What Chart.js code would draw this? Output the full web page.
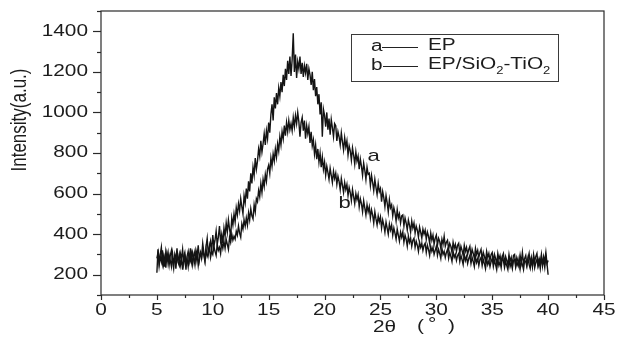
<!DOCTYPE html>
<html>
<head>
<meta charset="utf-8">
<script src="https://cdn.jsdelivr.net/npm/chart.js@4.4.1/dist/chart.umd.min.js"></script>
<style>
  html, body { margin: 0; padding: 0; background: #ffffff; }
  canvas { display: block; }
</style>
</head>
<body>
<canvas id="xrd" width="617" height="351"></canvas>
<script>
// Scan grid: 2θ from 5° to 40° in 0.1° steps
const TWO_THETA_START = 5;
const TWO_THETA_STEP = 0.1;

// a — EP
const intensityEP = [
  210,325,260,300,335,255,290,240,315,280,
  310,250,295,320,265,230,300,275,330,260,
  245,305,280,325,255,300,225,290,315,270,
  330,265,310,285,250,320,295,345,270,305,
  290,355,310,270,340,380,300,335,365,315,
  395,340,370,415,350,385,440,365,400,355,
  430,390,455,410,470,425,390,480,445,500,
  460,530,495,550,515,575,535,500,590,555,
  625,575,660,610,700,650,730,690,775,720,
  760,820,785,860,805,845,895,840,910,870,
  950,900,990,1040,960,1075,1020,1095,1040,1120,
  1080,1150,1100,1185,1130,1215,1160,1255,1190,1275,
  1180,1260,1390,1200,1285,1170,1250,1215,1275,1190,
  1245,1175,1230,1195,1240,1160,1215,1185,1135,1200,
  1110,1165,1080,1125,1040,1090,990,1050,880,1015,
  985,930,1000,915,970,890,965,925,880,945,
  935,860,905,880,840,900,855,815,875,830,
  860,790,835,810,765,825,790,745,805,760,
  785,720,770,735,690,750,715,670,730,695,
  700,640,690,655,615,670,630,595,650,610,
  625,560,610,580,535,590,555,510,570,530,
  545,490,530,505,465,520,480,500,455,490,
  495,440,480,455,420,470,445,410,465,430,
  455,405,440,420,385,435,410,380,425,400,
  420,375,410,390,355,405,370,395,350,380,
  395,345,380,365,330,375,350,390,340,360,
  370,325,355,340,310,360,330,350,315,345,
  355,305,340,320,295,345,315,335,300,325,
  340,290,325,305,280,330,300,320,285,310,
  325,275,310,290,265,315,285,305,270,300,
  310,265,300,280,255,305,275,295,260,290,
  305,255,290,270,250,300,265,285,245,295,
  300,250,285,265,240,295,260,310,255,280,
  295,250,280,305,255,285,240,300,265,290,
  305,250,280,260,300,245,290,265,310,255,
  200
];

// b — EP/SiO2-TiO2
const intensityComposite = [
  280,310,245,290,265,320,250,285,235,300,
  255,295,270,240,305,260,285,230,295,270,
  300,245,275,225,290,310,255,280,240,295,
  270,305,250,290,315,265,300,245,285,310,
  280,320,295,265,325,290,305,340,285,315,
  300,340,315,295,350,320,335,305,360,330,
  365,330,375,350,325,385,360,400,370,390,
  375,415,395,440,405,385,450,425,470,440,
  480,445,505,470,525,490,475,545,510,575,
  560,615,585,650,605,670,635,695,660,720,
  740,700,775,735,795,760,820,780,845,810,
  880,840,905,870,935,885,950,905,960,915,
  945,910,975,930,985,945,1000,955,880,950,
  975,910,960,870,935,895,930,850,905,835,
  865,795,840,770,820,755,800,730,780,720,
  755,690,735,705,670,725,690,655,710,675,
  700,645,685,660,620,675,640,605,655,620,
  645,590,630,605,565,620,585,550,600,570,
  595,535,575,550,510,565,530,495,545,510,
  535,480,520,495,455,510,475,445,490,460,
  485,430,470,445,410,460,430,400,450,420,
  445,395,430,405,375,425,395,365,410,385,
  410,360,395,375,340,390,360,380,340,370,
  380,335,365,345,315,360,335,355,320,345,
  355,310,345,325,295,340,315,335,300,320,
  340,295,325,305,280,330,300,315,285,310,
  325,280,310,290,265,315,285,300,270,295,
  305,265,295,275,250,300,270,290,255,280,
  295,255,285,265,240,290,260,280,245,275,
  285,245,275,255,230,280,250,270,240,265,
  280,240,270,250,225,275,245,265,235,285,
  270,235,265,245,225,275,240,260,230,270,
  275,235,260,245,280,230,265,250,225,270,
  265,240,280,250,230,270,245,285,235,260,
  275,240,265,230,285,250,270,235,290,255,
  270
];

// Axis ranges and labelled ticks
const xRange = [0, 45];
const xLabelledTicks = [0, 5, 10, 15, 20, 25, 30, 35, 40, 45];
const yRange = [100, 1500];
const yLabelledTicks = [200, 400, 600, 800, 1000, 1200, 1400];

// Curve tags placed beside each trace (2θ, intensity)
const curveTags = [
  { text: 'a', x: 24.4, y: 785 },
  { text: 'b', x: 21.8, y: 553 }
];

const TEXT_COLOR = '#1c1c1c';
const FONT = '"Liberation Sans", Arial, sans-serif';
const STRETCH = 1.3;

function toPoints(values) {
  return values.map((v, i) => ({ x: +(TWO_THETA_START + i * TWO_THETA_STEP).toFixed(2), y: v }));
}

function wideText(ctx, text, x, y, align, size) {
  ctx.save();
  ctx.font = size + 'px ' + FONT;
  ctx.fillStyle = TEXT_COLOR;
  ctx.textBaseline = 'middle';
  const w = ctx.measureText(text).width * STRETCH;
  let left = x;
  if (align === 'right') left = x - w;
  else if (align === 'center') left = x - w / 2;
  ctx.translate(left, y);
  ctx.scale(STRETCH, 1);
  ctx.textAlign = 'left';
  ctx.fillText(text, 0, 0);
  ctx.restore();
  return w;
}

const framePlugin = {
  id: 'frameAndText',
  afterDraw(chart) {
    const ctx = chart.ctx;
    const area = chart.chartArea;
    const xs = chart.scales.x;
    const ys = chart.scales.y;

    // frame
    ctx.save();
    ctx.strokeStyle = '#2a2a2a';
    ctx.lineWidth = 1.2;
    ctx.strokeRect(area.left, area.top, area.right - area.left, area.bottom - area.top);

    // y ticks (outward), majors every 200, minors between
    ys.ticks.forEach(t => {
      const py = Math.round(ys.getPixelForValue(t.value)) + 0.5;
      const major = yLabelledTicks.includes(t.value);
      const len = major ? 8 : 4;
      ctx.beginPath();
      ctx.moveTo(area.left - len, py);
      ctx.lineTo(area.left, py);
      ctx.stroke();
    });
    // x ticks (outward), majors every 5, minors between
    xs.ticks.forEach(t => {
      const px = Math.round(xs.getPixelForValue(t.value)) + 0.5;
      const major = xLabelledTicks.includes(t.value);
      const len = major ? 5 : 3;
      ctx.beginPath();
      ctx.moveTo(px, area.bottom);
      ctx.lineTo(px, area.bottom + len);
      ctx.stroke();
    });
    ctx.restore();

    // tick labels
    yLabelledTicks.forEach(v => {
      wideText(ctx, String(v), 88, ys.getPixelForValue(v), 'right', 16);
    });
    xLabelledTicks.forEach(v => {
      wideText(ctx, String(v), xs.getPixelForValue(v), 311, 'center', 16);
    });

    // axis titles
    ctx.save();
    ctx.translate(20, 120);
    ctx.scale(1.3, 1);
    ctx.rotate(-Math.PI / 2);
    ctx.font = '17px ' + FONT;
    ctx.fillStyle = TEXT_COLOR;
    ctx.textAlign = 'center';
    ctx.textBaseline = 'middle';
    ctx.fillText('Intensity(a.u.)', 0, 0);
    ctx.restore();

    wideText(ctx, '2\u03b8', 373, 328, 'left', 16);
    wideText(ctx, '(', 417, 327, 'left', 16);
    wideText(ctx, '\u00b0', 428, 325, 'left', 16);
    wideText(ctx, ')', 448, 327, 'left', 16);

    // curve tags
    curveTags.forEach(tag => {
      wideText(ctx, tag.text, xs.getPixelForValue(tag.x), ys.getPixelForValue(tag.y), 'center', 17);
    });

    // legend box
    ctx.save();
    ctx.strokeStyle = '#3a3a3a';
    ctx.lineWidth = 1;
    ctx.strokeRect(351.5, 34.5, 207, 47);
    ctx.strokeStyle = '#222';
    ctx.beginPath();
    ctx.moveTo(382, 47.5); ctx.lineTo(418, 47.5);
    ctx.moveTo(383, 66.5); ctx.lineTo(418, 66.5);
    ctx.stroke();
    ctx.restore();

    wideText(ctx, 'a', 371, 47, 'left', 16);
    wideText(ctx, 'EP', 428, 46, 'left', 16);
    wideText(ctx, 'b', 371, 66, 'left', 16);
    let cx = 428;
    cx += wideText(ctx, 'EP/SiO', cx, 65, 'left', 16);
    cx += wideText(ctx, '2', cx, 71, 'left', 10);
    cx += wideText(ctx, '-TiO', cx, 65, 'left', 16);
    wideText(ctx, '2', cx, 71, 'left', 10);
  }
};

new Chart(document.getElementById('xrd'), {
  type: 'scatter',
  data: {
    datasets: [
      { label: 'EP', data: toPoints(intensityEP), showLine: true, borderColor: '#141414', borderWidth: 1.4, pointRadius: 0, tension: 0 },
      { label: 'EP/SiO2-TiO2', data: toPoints(intensityComposite), showLine: true, borderColor: '#141414', borderWidth: 1.4, pointRadius: 0, tension: 0 }
    ]
  },
  options: {
    responsive: false,
    devicePixelRatio: 1,
    animation: false,
    layout: { padding: { left: 0, right: 13, top: 11, bottom: 0 } },
    plugins: { legend: { display: false }, tooltip: { enabled: false } },
    scales: {
      x: {
        type: 'linear',
        min: xRange[0], max: xRange[1],
        grid: { display: false, drawTicks: false },
        border: { display: false },
        ticks: { display: false, stepSize: 2.5, autoSkip: false },
        afterFit(s) { s.height = 56; }
      },
      y: {
        min: yRange[0], max: yRange[1],
        grid: { display: false, drawTicks: false },
        border: { display: false },
        ticks: { display: false, stepSize: 100, autoSkip: false },
        afterFit(s) { s.width = 101; }
      }
    }
  },
  plugins: [framePlugin]
});
</script>
</body>
</html>
